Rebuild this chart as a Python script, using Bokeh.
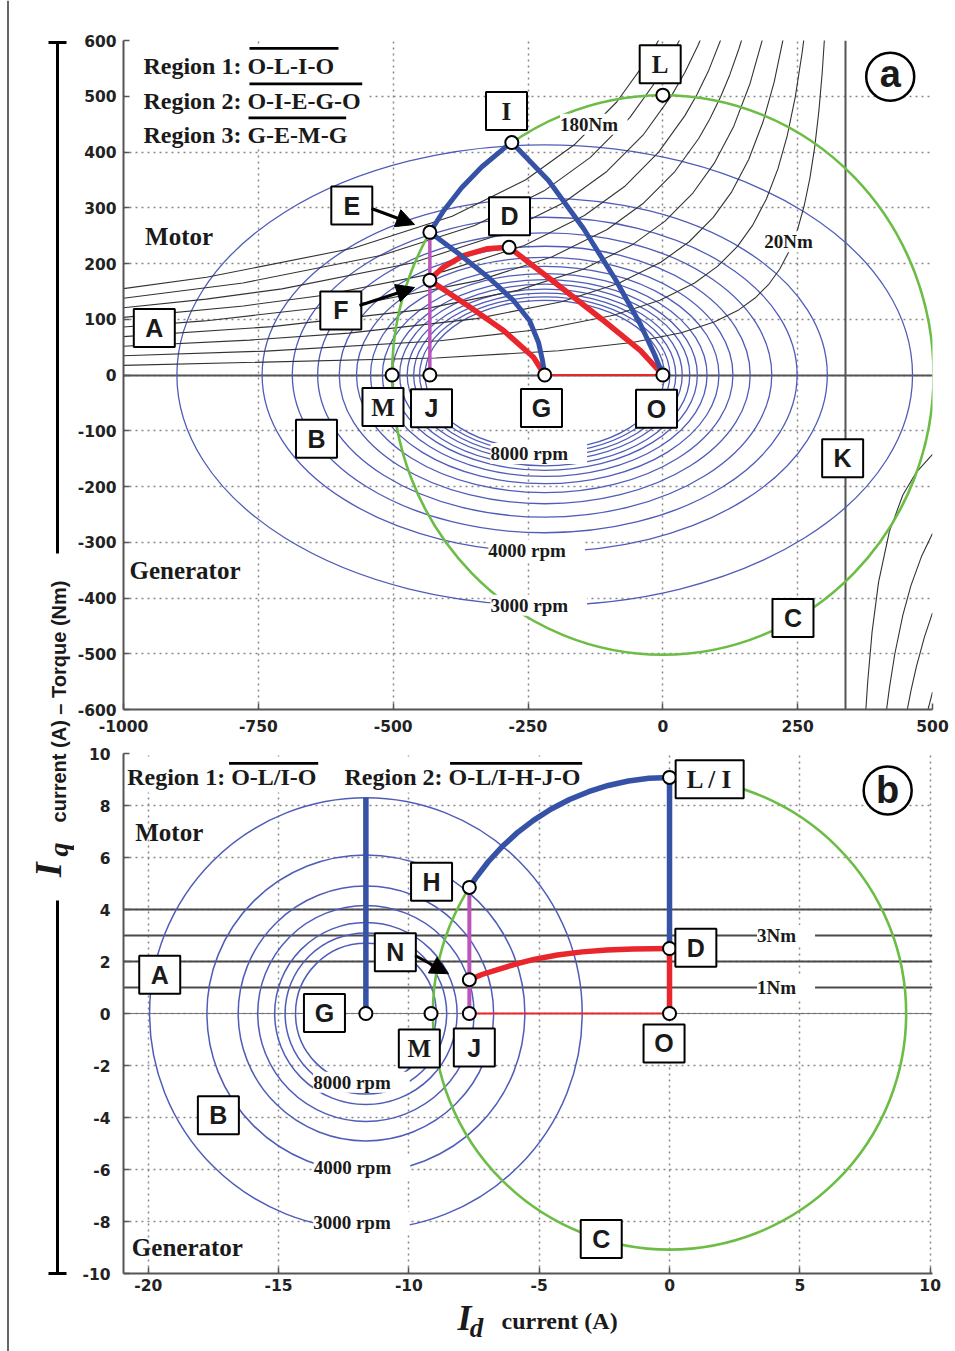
import math
from bokeh.plotting import figure
from bokeh.layouts import row, column
from bokeh.models import Range1d, FixedTicker, Label, Arrow, NormalHead, BoxAnnotation
from bokeh.core.properties import value
from bokeh.embed import file_html
from bokeh.resources import INLINE

SERIF = "Liberation Serif"
SANS = "Liberation Sans"
TICK_FONT = "DejaVu Sans"
INK = "#1a1a1a"
BLUE_THIN = "#4f5cb8"
BLUE = "#3552a6"
RED = "#e8262b"
GREEN = "#6cbd45"
MAGENTA = "#bb55bb"
AXIS_GREY = "#555555"

# ======================= (a) data =======================
A_X_TICKS = [-1000, -750, -500, -250, 0, 250, 500]
A_Y_TICKS = [-600, -500, -400, -300, -200, -100, 0, 100, 200, 300, 400, 500, 600]

# voltage-limit (speed) ellipses: common centre, semi-axes
A_SPEED_CENTER_ID = -219
A_SPEED_SEMI_ID = [682, 524, 468, 421, 381, 349, 323, 301, 283, 269, 255, 243, 232, 222]
A_SPEED_SEMI_IQ = [413, 317, 283, 255, 231, 211, 195, 182, 171, 163, 154, 147, 140, 134]
A_SPEED_LABEL_TEXT = ["8000 rpm", "4000 rpm", "3000 rpm"]
A_SPEED_LABEL_X = [-230, -234, -230]
A_SPEED_LABEL_Y = [-141, -315, -413]

# current-limit circle
A_CURRENT_LIMIT_R = 502

# constant-torque curves (20 ... 180 Nm), left branch
A_TORQUE_LEFT_X = [
    [-1000, -421.0, -193.3, -56.7, 34.4, 95.1, 140.7, 171.0, 196.8, 216.6, 234.8, 250.0, 262.1, 272.7, 281.8, 289.4, 295.5, 300.8],
    [-1000, -735.3, -413.3, -220.1, -91.3, -5.5, 58.9, 101.9, 138.4, 166.3, 192.0, 213.5, 230.7, 245.7, 258.6, 263.7],
    [-1000, -766.2, -582.2, -345.6, -187.8, -82.7, -3.8, 48.8, 93.5, 127.7, 159.2, 185.5, 206.5, 225.0, 226.5],
    [-1000, -724.5, -451.3, -269.2, -147.7, -56.7, 4.1, 55.7, 95.1, 131.6, 161.9, 186.2, 189.4],
    [-1000, -849.9, -544.5, -340.8, -205.1, -103.2, -35.4, 22.3, 66.5, 86.8, 107.2, 124.2, 141.1, 152.2],
    [-1000, -777.4, -628.7, -405.6, -256.9, -145.4, -71.0, -7.8, 40.6, 62.9, 85.2, 115.0],
    [-1000, -846.7, -706.2, -465.2, -304.6, -184.1, -103.8, -35.5, 16.7, 40.8, 64.9, 77.9],
    [-1000, -778.3, -520.7, -348.9, -220.1, -134.3, -61.3, -5.5, 20.3, 40.7],
    [-1000, -846.0, -572.8, -390.6, -254.0, -162.9, -85.5, -26.3, 3.6],
]
A_TORQUE_LEFT_Y = [
    [17.2, 30.4, 43.4, 58.4, 75.9, 94.9, 116.8, 138.0, 163.2, 189.7, 223.2, 261.7, 303.6, 353.0, 410.2, 474.3, 542.1, 620.0],
    [34.4, 42.9, 61.3, 82.6, 107.3, 134.2, 165.1, 195.2, 230.8, 268.3, 315.7, 370.1, 429.3, 499.2, 580.2, 620.0],
    [51.7, 62.6, 75.1, 101.1, 131.5, 164.3, 202.2, 239.0, 282.7, 328.6, 386.6, 453.3, 525.8, 611.4, 620.0],
    [68.9, 86.7, 116.8, 151.8, 189.7, 233.5, 276.0, 326.4, 379.5, 446.4, 523.4, 607.2, 620.0],
    [86.1, 97.0, 130.5, 169.7, 212.1, 261.1, 308.6, 365.0, 424.3, 458.7, 499.1, 538.7, 585.2, 620.0],
    [103.3, 123.9, 143.0, 185.9, 232.4, 286.0, 338.0, 399.8, 464.8, 502.4, 546.8, 620.0],
    [120.5, 136.1, 154.5, 200.8, 251.0, 308.9, 365.1, 431.8, 502.0, 542.7, 590.6, 620.0],
    [137.8, 165.1, 214.7, 268.3, 330.3, 390.3, 461.7, 536.7, 580.2, 620.0],
    [155.0, 175.2, 227.7, 284.6, 350.3, 414.0, 489.7, 569.2, 620.0],
]
# right branch (beyond the asymptote K)
A_TORQUE_ASYMPTOTE_ID = 338
A_TORQUE_RIGHT_X = [
    [376.0, 380.0, 388.0, 400.0, 420.0, 445.0, 470.0, 500.0],
    [414.0, 420.0, 430.0, 445.0, 460.0, 480.0, 500.0],
    [452.0, 460.0, 470.0, 485.0, 500.0],
    [490.0, 500.0],
]
A_TORQUE_RIGHT_Y = [
    [-606.3, -548.6, -460.8, -371.6, -281.0, -215.3, -174.5, -142.2],
    [-606.3, -562.0, -500.9, -430.7, -377.7, -324.5, -284.4],
    [-606.3, -566.6, -523.6, -470.2, -426.7],
    [-606.3, -568.9],
]
A_TORQUE_LABEL_TEXT = ["180Nm", "20Nm"]
A_TORQUE_LABEL_X = [-128, 242]
A_TORQUE_LABEL_Y = [450, 239]

# operating trajectories
A_EI_X = [-432, -406.1, -373.1, -335.9, -295.1, -280]
A_EI_Y = [256, 295.1, 335.9, 373.1, 406.1, 417]
A_IO_X = [-280, -212.0, -147.1, -87.8, -41.4, -15.4, 0]
A_IO_Y = [417, 348.9, 262.8, 171.3, 90.6, 36.8, 0]
A_EG_X = [-432, -378.9, -323.2, -276.9, -247.2, -230.5, -223.1, -219]
A_EG_Y = [256, 217.9, 174.9, 133.7, 97.8, 58.3, 26.0, 0]
A_FD_X = [-432, -420, -406.7, -369.6, -326.4, -285]
A_FD_Y = [170, 182, 193.4, 214.3, 226.4, 229]
A_FG_X = [-432, -357.2, -295.4, -239.8, -219]
A_FG_Y = [170, 121.6, 79.8, 31.9, 0]
A_DO_X = [-285, -202.7, -110.0, -41.4, 0]
A_DO_Y = [229, 167.7, 97.7, 43.9, 0]
A_GO_X = [-219, 0]
A_GO_Y = [0, 0]
A_EJ_X = [-432, -432]
A_EJ_Y = [256, 0]

A_POINT_X = [-280, 0, -432, -432, -285, -219, -432, -502, 0]
A_POINT_Y = [417, 502, 256, 170, 229, 0, 0, 0, 0]

A_BOX_TEXT = ["A", "B", "C", "D", "E", "F", "G", "I", "J", "K", "L", "M", "O"]
A_BOX_X = [-942.9, -642.2, 241.3, -284.3, -576.7, -597.1, -225.0, -289.9, -428.9, 333.4, -4.9, -518.9, -11.7]
A_BOX_Y = [84.3, -114.4, -435.9, 284.9, 304.0, 115.7, -59.2, 473.5, -59.8, -149.5, 557.3, -57.4, -60.4]

# ======================= (b) data =======================
B_X_TICKS = [-20, -15, -10, -5, 0, 5, 10]
B_Y_TICKS = [-10, -8, -6, -4, -2, 0, 2, 4, 6, 8, 10]

B_SPEED_CENTER_ID = -11.65
B_SPEED_R = [8.3, 6.1, 4.9, 4.15, 3.5, 3.1, 2.7]
B_SPEED_LABEL_TEXT = ["8000 rpm", "4000 rpm", "3000 rpm"]
B_SPEED_LABEL_X = [-11.82, -11.80, -11.82]
B_SPEED_LABEL_Y = [-2.64, -5.91, -8.03]

B_CURRENT_LIMIT_R = 9.08
B_TORQUE_LEVELS = [1, 2, 3, 4]
B_TORQUE_LABEL_TEXT = ["3Nm", "1Nm"]
B_TORQUE_LABEL_X = [4.47, 4.47]
B_TORQUE_LABEL_Y = [3.0, 1.0]

B_G_X = [-11.65, -11.65]
B_G_Y = [0, 8.3]
B_HL_X = [-7.68, -7.438, -6.956, -6.421, -5.837, -5.208, -4.540, -3.837, -3.106, -2.350, -1.577, -0.791, 0]
B_HL_Y = [4.85, 5.208, 5.837, 6.421, 6.956, 7.438, 7.864, 8.229, 8.532, 8.771, 8.942, 9.045, 9.08]
B_LD_X = [0, 0]
B_LD_Y = [9.08, 2.5]
B_OD_X = [0, 0]
B_OD_Y = [0, 2.5]
B_ND_X = [-7.68, -7.2, -6.5, -5.8, -5.2, -4.3, -3.35, -2.4, -1.4, 0]
B_ND_Y = [1.3, 1.5, 1.72, 1.93, 2.08, 2.25, 2.37, 2.44, 2.48, 2.5]
B_JO_X = [-7.68, 0]
B_JO_Y = [0, 0]
B_HJ_X = [-7.68, -7.68]
B_HJ_Y = [4.85, 0]

B_POINT_X = [-11.65, -9.15, -7.68, -7.68, -7.68, 0, 0, 0]
B_POINT_Y = [0, 0, 0, 1.3, 4.85, 9.08, 2.5, 0]

B_BOX_TEXT = ["A", "B", "C", "G", "M", "J", "O", "D", "L / I", "H", "N"]
B_BOX_X = [-19.56, -17.31, -2.62, -13.24, -9.60, -7.49, -0.21, 1.01, 1.54, -9.13, -10.52]
B_BOX_Y = [1.49, -3.91, -8.67, 0.02, -1.35, -1.31, -1.15, 2.53, 9.01, 5.07, 2.36]

SERIF_BOX = {"I", "L", "M", "L / I"}

STRIP_W = 74        # width of the shared y-title strip
FRAME_LEFT = 121    # page pixel of the (aligned) plot frames' left edge
FRAME_W = 809
BORDER_L = FRAME_LEFT - STRIP_W
BORDER_R = 955 - FRAME_LEFT - FRAME_W


def style_axes(p, xticks, yticks, sx, sy):
    p.xaxis.ticker = FixedTicker(ticks=xticks)
    p.yaxis.ticker = FixedTicker(ticks=yticks)
    p.xaxis.major_label_overrides = {t: str(t) for t in xticks}
    p.yaxis.major_label_overrides = {t: str(t) for t in yticks}
    for ax in (p.xaxis[0], p.yaxis[0]):
        ax.axis_line_color = AXIS_GREY
        ax.axis_line_width = 2
        ax.major_tick_line_color = AXIS_GREY
        ax.major_tick_line_width = 1.5
        ax.major_tick_in = 6
        ax.major_tick_out = 0
        ax.minor_tick_line_color = None
        ax.major_label_text_font = TICK_FONT
        ax.major_label_text_font_style = "bold"
        ax.major_label_text_font_size = "15.5px"
        ax.major_label_text_color = "#222222"
    p.xaxis.major_label_standoff = sx
    p.yaxis.major_label_standoff = sy
    p.grid.grid_line_color = "#888888"
    p.grid.grid_line_dash = "2 4"
    p.grid.grid_line_width = 1.5
    p.outline_line_color = None


def draw_boxes(p, xs, ys, texts):
    widths = [68 if len(t) > 1 else 41 for t in texts]
    p.rect(x=xs, y=ys, width=widths, height=38, width_units="screen", height_units="screen",
           fill_color="white", line_color="black", line_width=2)
    for font in (SANS, SERIF):
        idx = [i for i, t in enumerate(texts) if (t in SERIF_BOX) == (font == SERIF)]
        if idx:
            p.text(x=[xs[i] for i in idx], y=[ys[i] for i in idx], text=[texts[i] for i in idx],
                   text_font=value(font), text_font_style="bold", text_font_size="25px",
                   text_align="center", text_baseline="middle", text_color=INK)


def label(p, x, y, text, font, size, style="bold", align="left", bg=None):
    p.add_layout(Label(x=x, y=y, text=text, text_font=font, text_font_size=size,
                       text_font_style=style, text_align=align, text_baseline="middle",
                       text_color=INK, background_fill_color=bg))


def overline(p, x0, x1, y):
    p.add_layout(Arrow(x_start=x0, y_start=y, x_end=x1, y_end=y, start=None, end=None,
                       line_color="black", line_width=2.7))


def pointer(p, x0, y0, x1, y1):
    p.add_layout(Arrow(x_start=x0, y_start=y0, x_end=x1, y_end=y1, line_color="black", line_width=3,
                       end=NormalHead(size=18, fill_color="black", line_color="black", line_width=1)))


# ======================= figure (a) =======================
p1 = figure(frame_width=FRAME_W, frame_height=669, x_range=Range1d(-1000, 500), y_range=Range1d(-600, 600),
            output_backend="svg", toolbar_location=None, min_border_left=BORDER_L,
            min_border_right=BORDER_R, min_border_top=40, min_border_bottom=31)
style_axes(p1, A_X_TICKS, A_Y_TICKS, 10, 7)
p1.add_layout(BoxAnnotation(left=-997, right=-550, top=592, bottom=410, fill_color="white",
                            fill_alpha=1, line_color=None, level="underlay"))

p1.hspan(y=[0], line_color=AXIS_GREY, line_width=2)
p1.vspan(x=[A_TORQUE_ASYMPTOTE_ID], line_color=AXIS_GREY, line_width=2)
n_a = len(A_SPEED_SEMI_ID)
p1.ellipse(x=[A_SPEED_CENTER_ID] * n_a, y=[0] * n_a, width=[2 * a for a in A_SPEED_SEMI_ID],
           height=[2 * b for b in A_SPEED_SEMI_IQ], fill_color=None, line_color=BLUE_THIN, line_width=1.3)
p1.multi_line(xs=A_TORQUE_LEFT_X + A_TORQUE_RIGHT_X, ys=A_TORQUE_LEFT_Y + A_TORQUE_RIGHT_Y,
              line_color="#333333", line_width=1.1)
p1.ellipse(x=[0], y=[0], width=[2 * A_CURRENT_LIMIT_R], height=[2 * A_CURRENT_LIMIT_R],
           fill_color=None, line_color=GREEN, line_width=2.6)
p1.line(A_EJ_X, A_EJ_Y, line_color=MAGENTA, line_width=3.5)
p1.line(A_GO_X, A_GO_Y, line_color=RED, line_width=2.2)
p1.multi_line(xs=[A_FD_X, A_FG_X, A_DO_X], ys=[A_FD_Y, A_FG_Y, A_DO_Y], line_color=RED,
              line_width=5.5, line_cap="round", line_join="round")
p1.multi_line(xs=[A_EI_X, A_IO_X, A_EG_X], ys=[A_EI_Y, A_IO_Y, A_EG_Y], line_color=BLUE,
              line_width=5, line_cap="round", line_join="round")
p1.scatter(A_POINT_X, A_POINT_Y, marker="circle", size=13, fill_color="white", line_color="black", line_width=2)
draw_boxes(p1, A_BOX_X, A_BOX_Y, A_BOX_TEXT)
p1.scatter([421.6], [535.1], marker="circle", size=48, fill_color="white", line_color="black", line_width=2.5)
p1.text(x=[421.6], y=[535.1], text=["a"], text_font=value(SANS), text_font_style="bold",
        text_font_size="38px", text_align="center", text_baseline="middle", text_color=INK, y_offset=-3)

label(p1, -963, 554, "Region 1: O-L-I-O", SERIF, "24px")
label(p1, -963, 492, "Region 2: O-I-E-G-O", SERIF, "24px")
label(p1, -963, 431, "Region 3: G-E-M-G", SERIF, "24px")
overline(p1, -766.4, -601.4, 585.7)
overline(p1, -766.4, -557.4, 522.3)
overline(p1, -768.2, -587.1, 461.3)
label(p1, -960, 249, "Motor", SERIF, "25px")
label(p1, -989, -351, "Generator", SERIF, "25px")
for t, x, y in zip(A_SPEED_LABEL_TEXT, A_SPEED_LABEL_X, A_SPEED_LABEL_Y):
    label(p1, x, y, "  " + t + "  ", SERIF, "19px", align="center", bg="white")
for t, x, y in zip(A_TORQUE_LABEL_TEXT, A_TORQUE_LABEL_X, A_TORQUE_LABEL_Y):
    label(p1, x, y, " " + t + " ", SERIF, "19px", align="center", bg="white")
pointer(p1, -540.2, 298.7, -460.4, 270.0)
pointer(p1, -562.4, 124.7, -460.4, 156.9)

# ======================= figure (b) =======================
P2_BOTTOM = 24
p2 = figure(frame_width=FRAME_W, frame_height=520, x_range=Range1d(-20.95, 10.09), y_range=Range1d(-10, 10),
            output_backend="svg", toolbar_location=None, min_border_left=BORDER_L, min_border_right=BORDER_R,
            min_border_top=13, min_border_bottom=P2_BOTTOM)
style_axes(p2, B_X_TICKS, B_Y_TICKS, 5, 13)
p2.add_layout(BoxAnnotation(left=-20.9, right=-3.2, top=9.88, bottom=8.5, fill_color="white",
                            fill_alpha=1, line_color=None, level="underlay"))

p2.hspan(y=[0], line_color="#777777", line_width=1)
p2.hspan(y=B_TORQUE_LEVELS, line_color="#4a4a4a", line_width=2)
n_b = len(B_SPEED_R)
p2.ellipse(x=[B_SPEED_CENTER_ID] * n_b, y=[0] * n_b, width=[2 * r for r in B_SPEED_R],
           height=[2 * r for r in B_SPEED_R], fill_color=None, line_color=BLUE_THIN, line_width=1.5)
p2.ellipse(x=[0], y=[0], width=[2 * B_CURRENT_LIMIT_R], height=[2 * B_CURRENT_LIMIT_R],
           fill_color=None, line_color=GREEN, line_width=2.6)
p2.line(B_HJ_X, B_HJ_Y, line_color=MAGENTA, line_width=4)
p2.line(B_JO_X, B_JO_Y, line_color=RED, line_width=2.2)
p2.multi_line(xs=[B_ND_X, B_OD_X], ys=[B_ND_Y, B_OD_Y], line_color=RED, line_width=5.5,
              line_cap="round", line_join="round")
p2.multi_line(xs=[B_G_X, B_HL_X, B_LD_X], ys=[B_G_Y, B_HL_Y, B_LD_Y], line_color=BLUE, line_width=5.5,
              line_cap="butt", line_join="round")
p2.scatter(B_POINT_X, B_POINT_Y, marker="circle", size=13, fill_color="white", line_color="black", line_width=2)
draw_boxes(p2, B_BOX_X, B_BOX_Y, B_BOX_TEXT)
p2.scatter([8.37], [8.58], marker="circle", size=48, fill_color="white", line_color="black", line_width=2.5)
p2.text(x=[8.37], y=[8.58], text=["b"], text_font=value(SANS), text_font_style="bold",
        text_font_size="38px", text_align="center", text_baseline="middle", text_color=INK)

label(p2, -20.81, 9.09, "Region 1: O-L/I-O", SERIF, "24px")
label(p2, -12.47, 9.09, "Region 2: O-L/I-H-J-O", SERIF, "24px")
overline(p2, -16.90, -13.48, 9.62)
overline(p2, -8.42, -3.35, 9.62)
label(p2, -20.50, 6.97, "Motor", SERIF, "25px")
label(p2, -20.63, -9.01, "Generator", SERIF, "25px")
for t, x, y in zip(B_SPEED_LABEL_TEXT, B_SPEED_LABEL_X, B_SPEED_LABEL_Y):
    label(p2, x, y, "  " + t + "  ", SERIF, "19px", align="center", bg="white")
for t, x, y in zip(B_TORQUE_LABEL_TEXT, B_TORQUE_LABEL_X, B_TORQUE_LABEL_Y):
    label(p2, x, y, "  " + t + "  ", SERIF, "19px", align="center", bg="white")
pointer(p2, -9.76, 2.23, -8.48, 1.53)

# ======================= x-axis title strip (below b), frame aligned with the plots =======================
P3_H = 1351 - 740 - (13 + 520 + P2_BOTTOM)
p3 = figure(frame_width=FRAME_W, frame_height=P3_H, x_range=Range1d(FRAME_LEFT, FRAME_LEFT + FRAME_W),
            y_range=Range1d(0, P3_H), x_axis_location=None, y_axis_location=None,
            toolbar_location=None, output_backend="svg", min_border_left=BORDER_L,
            min_border_right=BORDER_R, min_border_top=0, min_border_bottom=0)
p3.xgrid.grid_line_color = None
p3.ygrid.grid_line_color = None
p3.outline_line_color = None
# x: page pixel from the left; y: page pixel measured up from the bottom of the page
p3.text(x=[462], y=[1351 - 1317], text=["I"], text_font=value(SERIF), text_font_style="bold italic",
        text_font_size="36px", text_align="center", text_baseline="middle", text_color=INK)
p3.text(x=[474], y=[1351 - 1327], text=["d"], text_font=value(SERIF), text_font_style="bold italic",
        text_font_size="27px", text_align="center", text_baseline="middle", text_color=INK)
p3.text(x=[499], y=[1351 - 1320], text=["current (A)"], text_font=value(SERIF), text_font_style="bold",
        text_font_size="24px", text_align="left", text_baseline="middle", text_color=INK)

# ======================= shared y title strip =======================
p0 = figure(frame_width=STRIP_W, frame_height=1351, x_range=Range1d(0, STRIP_W), y_range=Range1d(0, 1351),
            x_axis_location=None, y_axis_location=None, toolbar_location=None, output_backend="svg",
            min_border=0)
p0.xgrid.grid_line_color = None
p0.ygrid.grid_line_color = None
p0.outline_line_color = None
p0.segment(x0=[7.5], y0=[0], x1=[7.5], y1=[1351], line_color="#333333", line_width=1.5)
p0.segment(x0=[57, 48, 57, 48], y0=[1309, 1309, 451, 78], x1=[57, 66, 57, 66], y1=[798, 1309, 78, 78],
           line_color="black", line_width=3)
p0.text(x=[58], y=[650], text=["current (A) \u2013 Torque (Nm)"], angle=math.pi / 2,
        text_font=value(SANS), text_font_style="bold", text_font_size="20px",
        text_align="center", text_baseline="middle", text_color=INK)
p0.text(x=[47], y=[482], text=["I"], angle=math.pi / 2, text_font=value(SERIF),
        text_font_style="bold italic", text_font_size="38px", text_align="center",
        text_baseline="middle", text_color=INK)
p0.text(x=[58], y=[502], text=["q"], angle=math.pi / 2, text_font=value(SERIF),
        text_font_style="bold italic", text_font_size="28px", text_align="center",
        text_baseline="middle", text_color=INK)

layout = row(p0, column(p1, p2, p3))
open("out.html", "w").write(file_html(layout, INLINE, title="Id-Iq operating regions"))
